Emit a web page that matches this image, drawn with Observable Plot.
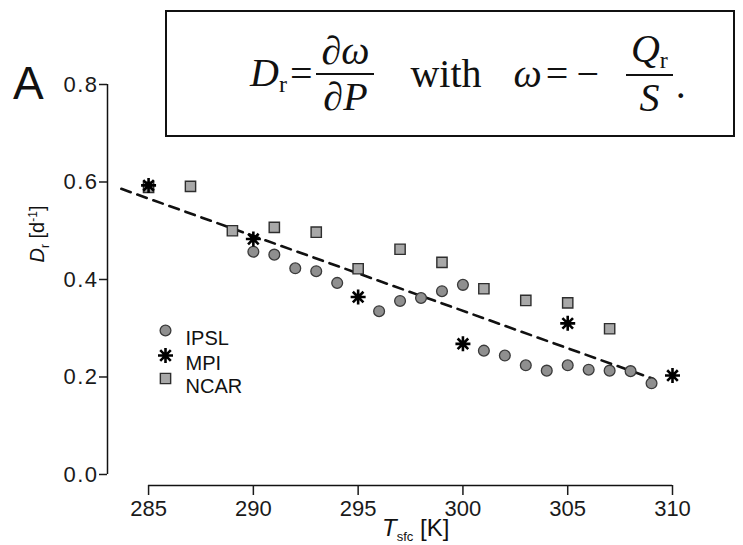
<!DOCTYPE html>
<html>
<head>
<meta charset="utf-8">
<script src="https://cdn.jsdelivr.net/npm/d3@7"></script>
<script src="https://cdn.jsdelivr.net/npm/@observablehq/plot@0.6"></script>
<style>
  html, body { margin: 0; padding: 0; background: #fff; }
  #wrap { position: relative; width: 743px; height: 545px; font-family: "Liberation Sans", Arial, sans-serif; }
  #eq { position: absolute; left: 165px; top: 10px; width: 566px; height: 123px; border: 2px solid #111;
        display: flex; align-items: center; justify-content: flex-start; padding-left: 0;
        font-family: "Liberation Serif", "Times New Roman", serif;
        font-size: 40px; color: #111; box-sizing: content-box; }
  .frac { display: inline-flex; flex-direction: column; align-items: center; vertical-align: middle; margin: 0 3px; }
  .frac .num { border-bottom: 2px solid #111; padding: 0 5px 0 5px; line-height: 1.1; }
  .frac .den { padding: 0 5px 0 5px; line-height: 1.1; }
  .sub { font-size: 0.6em; vertical-align: -0.25em; }
</style>
</head>
<body>
<div id="wrap">
  <div id="chart"></div>
  <div id="eq">
    <span style="margin-left:83px"><i>D</i><span class="sub">r</span></span>
    <span style="margin:0 1px 0 3px">=</span>
    <span class="frac"><span class="num">∂<i>ω</i></span><span class="den">∂<i>P</i></span></span>
    <span style="margin:0 32px 0 33px">with</span>
    <span><i>ω</i></span>
    <span style="margin:0 4px">=</span>
    <span style="margin:0 24px 0 4px">−</span>
    <span class="frac"><span class="num"><i>Q</i><span class="sub">r</span></span><span class="den"><i>S</i></span></span><span style="align-self:center;margin-top:22px">.</span>
  </div>
</div>
<script>
// ---- data ----
const ipslT = [290, 291, 292, 293, 294, 296, 297, 298, 299, 300, 301, 302, 303, 304, 305, 306, 307, 308, 309];
const ipslD = [0.457, 0.451, 0.423, 0.417, 0.393, 0.335, 0.356, 0.362, 0.376, 0.389, 0.254, 0.244, 0.224, 0.213, 0.224, 0.215, 0.213, 0.212, 0.187];
const mpiT = [285, 290, 295, 300, 305, 310];
const mpiD = [0.593, 0.483, 0.364, 0.268, 0.310, 0.203];
const ncarT = [285, 287, 289, 291, 293, 295, 297, 299, 301, 303, 305, 307];
const ncarD = [0.589, 0.591, 0.500, 0.507, 0.497, 0.422, 0.462, 0.435, 0.381, 0.357, 0.352, 0.299];
const trendT = [283.7, 309.1];
const trendD = [0.586, 0.196];
const xTicks = [285, 290, 295, 300, 305, 310];
const yTicks = [0.0, 0.2, 0.4, 0.6, 0.8];
const seriesNames = ["IPSL", "MPI", "NCAR"];

// domains
const xMin = 283.04, xMax = 310;
const yMin = -0.0226, yMax = 0.8;

const ipsl = ipslT.map((t, i) => ({t, d: ipslD[i]}));
const mpi = mpiT.map((t, i) => ({t, d: mpiD[i]}));
const ncar = ncarT.map((t, i) => ({t, d: ncarD[i]}));
const trend = trendT.map((t, i) => ({t, d: trendD[i]}));

// 8-spoke asterisk (like R pch 8)
const asterisk = {
  draw(context, size) {
    const r = Math.sqrt(size / Math.PI);
    for (let k = 0; k < 4; k++) {
      const a = k * Math.PI / 4;
      const c = Math.cos(a) * r, s = Math.sin(a) * r;
      context.moveTo(-c, -s);
      context.lineTo(c, s);
    }
  }
};

const ipslStyle = {r: 5.4, fill: "#8f8f8f", stroke: "#3a3a3a", strokeWidth: 1.3};
const ncarStyle = {symbol: "square", r: 5.8, fill: "#a8a8a8", stroke: "#2e2e2e", strokeWidth: 1.4};
const mpiStyle = {symbol: asterisk, r: 7.5, fill: "none", stroke: "#000", strokeWidth: 2.6};

const plot = Plot.plot({
  width: 743,
  height: 545,
  marginLeft: 107,
  marginRight: 71,
  marginTop: 84,
  marginBottom: 60,
  style: {fontFamily: "'Liberation Sans', Arial, sans-serif", color: "#1a1a1a", background: "transparent"},
  x: {domain: [xMin, xMax]},
  y: {domain: [yMin, yMax]},
  marks: [
    Plot.ruleX([xMin], {y1: 0, y2: 0.8, stroke: "#111", strokeWidth: 1.5}),
    Plot.ruleY([yMin], {x1: xTicks[0], x2: xTicks[xTicks.length - 1], stroke: "#111", strokeWidth: 1.5}),
    Plot.axisY({ticks: yTicks, tickFormat: d => d.toFixed(1), tickSize: 8, tickPadding: 1, fontSize: 22, label: null, strokeWidth: 1.5}),
    Plot.axisX({ticks: xTicks, tickFormat: d => String(d), tickSize: 10, tickPadding: 5, fontSize: 22, label: null, strokeWidth: 1.5}),
    Plot.line(trend, {x: "t", y: "d", stroke: "#111", strokeWidth: 2.6, strokeDasharray: "10,7"}),
    Plot.dot(ipsl, {x: "t", y: "d", ...ipslStyle}),
    Plot.dot(ncar, {x: "t", y: "d", ...ncarStyle}),
    Plot.dot(mpi, {x: "t", y: "d", ...mpiStyle}),
    // legend
    Plot.dot([seriesNames[0]], {frameAnchor: "top-left", dx: 58, dy: 246, ...ipslStyle}),
    Plot.dot([seriesNames[1]], {frameAnchor: "top-left", dx: 58, dy: 271, ...mpiStyle}),
    Plot.dot([seriesNames[2]], {frameAnchor: "top-left", dx: 58, dy: 294, ...ncarStyle}),
    Plot.text([seriesNames[0]], {text: d => d, frameAnchor: "top-left", dx: 78, dy: 246, textAnchor: "start", fontSize: 20, fill: "#111"}),
    Plot.text([seriesNames[1]], {text: d => d, frameAnchor: "top-left", dx: 78, dy: 271, textAnchor: "start", fontSize: 20, fill: "#111"}),
    Plot.text([seriesNames[2]], {text: d => d, frameAnchor: "top-left", dx: 78, dy: 294, textAnchor: "start", fontSize: 20, fill: "#111"})
  ]
});
document.getElementById("chart").appendChild(plot);

// widen y tick labels slightly (reference text is horizontally stretched)
d3.select(plot).selectAll('g[aria-label="y-axis tick label"] text').style("letter-spacing", "1.5px");

// extra text: panel letter, axis titles with sub/superscripts
const svg = d3.select(plot);
svg.append("text").attr("x", 13).attr("y", 99).attr("text-anchor", "start").attr("font-size", 46).attr("fill", "#111").text("A");

const xt = svg.append("text").attr("x", 382).attr("y", 536).attr("text-anchor", "start").attr("font-size", 24).attr("fill", "#111");
xt.append("tspan").attr("font-style", "italic").text("T");
xt.append("tspan").attr("font-size", 13).attr("dy", 5).text("sfc");
xt.append("tspan").attr("dy", -5).text(" [K]");

const yt = svg.append("text").attr("transform", "translate(44,234) rotate(-90)").attr("text-anchor", "middle").attr("font-size", 20).attr("fill", "#111");
yt.append("tspan").attr("font-style", "italic").text("D");
yt.append("tspan").attr("font-size", 12).attr("dy", 5).text("r");
yt.append("tspan").attr("dy", -5).text(" [d");
yt.append("tspan").attr("font-size", 12).attr("dy", -7).text("-1");
yt.append("tspan").attr("dy", 7).text("]");
</script>
</body>
</html>
